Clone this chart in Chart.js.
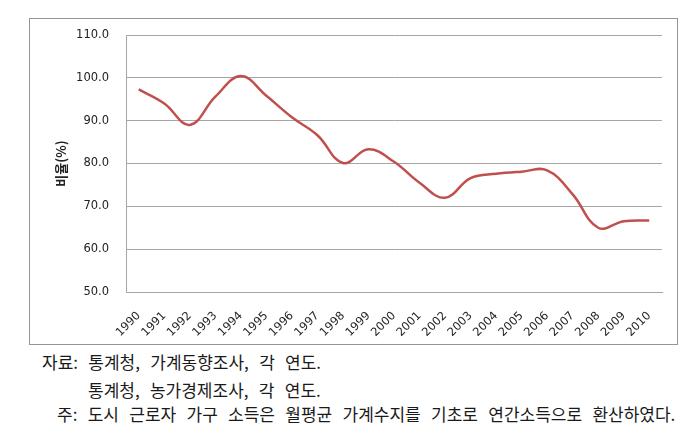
<!DOCTYPE html>
<html>
<head>
<meta charset="utf-8">
<script src="https://cdn.jsdelivr.net/npm/chart.js@4"></script>
<style>
  body { margin: 0; background: #fff; }
  #page { position: relative; width: 689px; height: 430px; }
  #box {
    position: absolute; left: 29px; top: 18px; width: 649px; height: 327px;
    box-sizing: border-box; border: 1px solid #959595;
  }
  .note {
    position: absolute; font-family: "Noto Sans CJK KR", sans-serif;
    font-size: 17px; line-height: 20px; color: #1a1a1a; white-space: nowrap;
    word-spacing: 6.5px;
  }
</style>
</head>
<body>
<div id="page">
  <div id="box"><canvas id="chart" width="647" height="325"></canvas></div>
  <div class="note" style="left:42px; top:352px;">자료: 통계청, 가계동향조사, 각 연도.</div>
  <div class="note" style="left:88px; top:380px;">통계청, 농가경제조사, 각 연도.</div>
  <div class="note" style="left:57px; top:404px;">주: 도시 근로자 가구 소득은 월평균 가계수지를 기초로 연간소득으로 환산하였다.</div>
</div>
<script>
const years = ["1990", "1991", "1992", "1993", "1994", "1995", "1996", "1997", "1998", "1999", "2000",
  "2001", "2002", "2003", "2004", "2005", "2006", "2007", "2008", "2009", "2010"];
const ratio = [97.3, 94.0, 89.0, 95.6, 100.4, 95.8, 90.8, 86.6, 80.1, 83.3, 80.4,
  75.5, 72.0, 76.6, 77.6, 78.1, 78.4, 72.8, 65.0, 66.5, 66.7];
const yTitle = "비율(%)";

const gridColor = "#a6a6a6";
const tickFont = { family: "DejaVu Sans", size: 11.5 };

new Chart(document.getElementById("chart"), {
  type: "line",
  data: {
    labels: years,
    datasets: [
      {
        data: ratio,
        borderColor: "#c0504d",
        borderWidth: 2.5,
        pointRadius: 0,
        tension: 0.4,
        fill: false,
      },
    ],
  },
  options: {
    responsive: false,
    animation: false,
    layout: { padding: { left: 0, right: 15, top: 16, bottom: 0 } },
    plugins: { legend: { display: false }, tooltip: { enabled: false } },
    scales: {
      x: {
        offset: true,
        grid: { display: false, drawTicks: false },
        border: { display: true, color: gridColor },
        ticks: {
          autoSkip: false,
          minRotation: 45,
          maxRotation: 45,
          padding: 17,
          color: "#222",
          font: { family: "DejaVu Sans", size: 11.5 },
        },
        afterFit: (s) => { s.height = 52; },
      },
      y: {
        min: 50,
        max: 110,
        ticks: {
          stepSize: 10,
          padding: 0,
          color: "#222",
          font: tickFont,
          callback: (v) => v.toFixed(1),
        },
        // tick marks kept invisible; their length only spaces the labels from the axis
        grid: { color: gridColor, drawTicks: true, tickLength: 17, tickColor: "rgba(0,0,0,0)" },
        border: { display: true, color: gridColor },
        title: {
          display: true,
          text: yTitle,
          color: "#222",
          font: { family: "Noto Sans CJK KR", size: 13, weight: "bold" },
          padding: { top: 23, bottom: 0 },
        },
        afterFit: (s) => { s.width = 96; },
      },
    },
  },
});
</script>
</body>
</html>
